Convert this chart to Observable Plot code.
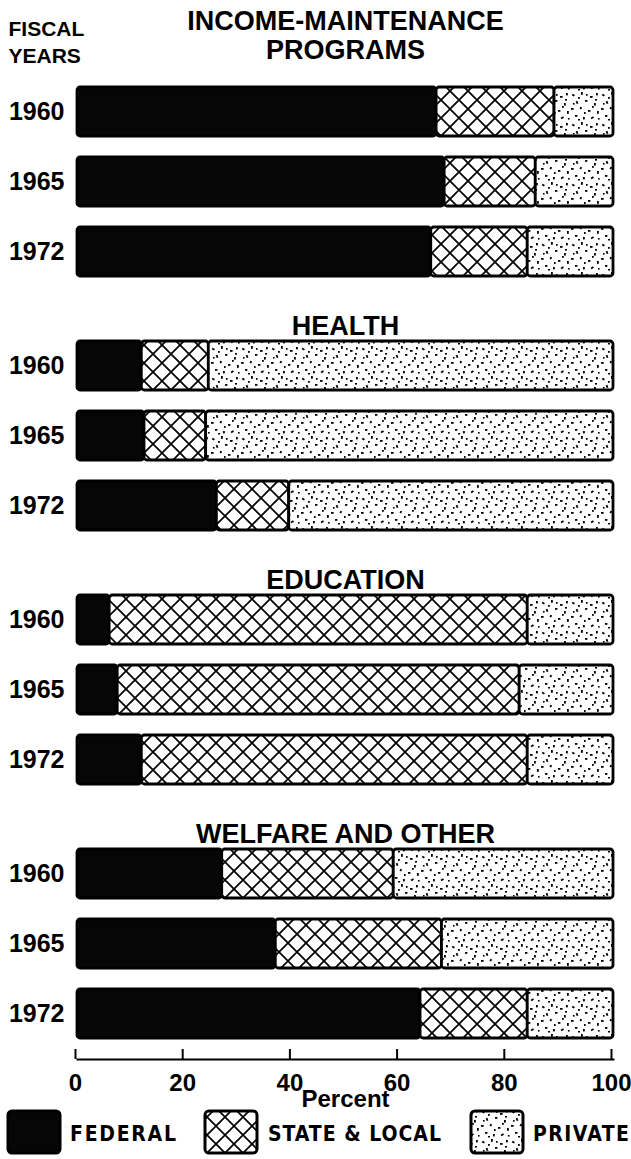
<!DOCTYPE html>
<html><head><meta charset="utf-8">
<script src="https://cdn.jsdelivr.net/npm/d3@7"></script>
<script src="https://cdn.jsdelivr.net/npm/@observablehq/plot@0.6"></script>
<style>
html,body{margin:0;padding:0;background:#fff;}
#chart{position:relative;width:631px;height:1159px;overflow:hidden;}
#legend{display:block;}
</style></head><body>
<svg width="0" height="0" style="position:absolute">
<defs>
<pattern id="cross" patternUnits="userSpaceOnUse" width="18" height="18">
<rect width="18" height="18" fill="#fff"/>
<path d="M-2,-2L20,20M20,-2L-2,20" stroke="#000" stroke-width="1.7"/>
</pattern>
<pattern id="dots" patternUnits="userSpaceOnUse" width="30" height="30">
<rect width="30" height="30" fill="#fff"/>
<g fill="#000">
<rect x="2" y="3" width="2.6" height="1.8" transform="rotate(30 3 4)"/>
<rect x="11" y="1" width="1.8" height="2.8"/>
<rect x="20" y="5" width="2.6" height="1.8"/>
<rect x="26" y="2" width="1.8" height="2.4"/>
<rect x="6" y="10" width="1.8" height="2.8" transform="rotate(-20 7 11)"/>
<rect x="15" y="9" width="2.4" height="1.8"/>
<rect x="24" y="12" width="1.8" height="2.6"/>
<rect x="1" y="17" width="2.6" height="1.8"/>
<rect x="10" y="16" width="1.8" height="2.4" transform="rotate(25 11 17)"/>
<rect x="18" y="19" width="2.4" height="1.8"/>
<rect x="27" y="20" width="1.8" height="2.8"/>
<rect x="5" y="24" width="2.4" height="1.8"/>
<rect x="13" y="26" width="1.8" height="2.4"/>
<rect x="21" y="26" width="2.8" height="1.8" transform="rotate(-30 22 27)"/>
<rect x="8" y="6" width="1.8" height="1.8"/>
<rect x="22" y="15" width="1.8" height="1.8"/>
<rect x="16" y="3" width="1.6" height="1.8"/>
<rect x="3" y="12" width="1.6" height="1.6"/>
<rect x="14" y="21" width="1.6" height="2"/>
<rect x="25" y="8" width="2" height="1.6"/>
<rect x="28" y="27" width="1.6" height="1.6"/>
<rect x="8" y="28" width="2" height="1.5"/>
</g>
</pattern>
</defs></svg>
<div id="chart"></div>
<script>
const programs = ["INCOME-MAINTENANCE\nPROGRAMS", "HEALTH", "EDUCATION", "WELFARE AND OTHER"];
const years = ["1960", "1965", "1972"];
const sources = ["FEDERAL", "STATE & LOCAL", "PRIVATE"];
// percent shares, per program, per year
const federal      = [[67, 68.5, 66], [12, 12.5, 26], [6, 7.5, 12], [27, 37, 64]];
const stateLocal   = [[22, 17, 18], [12.5, 11.5, 13.5], [78, 75, 72], [32, 31, 20]];
const privateShare = [[11, 14.5, 16], [75.5, 76, 60.5], [16, 17.5, 16], [41, 32, 16]];
const xTicks = [0, 20, 40, 60, 80, 100];

const series = [federal, stateLocal, privateShare];
const rows = [];
programs.forEach((p, i) => years.forEach((y, j) => series.forEach((arr, k) =>
  rows.push({program: p, year: y, source: sources[k], value: arr[i][j]}))));

const font = "'Liberation Sans', Arial, Helvetica, sans-serif";

const chart = Plot.plot({
  width: 631,
  height: 1108,
  marginLeft: 77,
  marginRight: 18,
  marginTop: 65,
  marginBottom: 48,
  style: {fontFamily: font, background: "#fff", color: "#000", overflow: "visible"},
  x: {domain: [0, 100]},
  y: {domain: years, padding: 0.3},
  fy: {domain: programs, paddingInner: 0.09, paddingOuter: 0, axis: null},
  color: {domain: sources, range: ["#060606", "url(#cross)", "url(#dots)"]},
  marks: [
    Plot.barX(rows, Plot.stackX({x: "value", y: "year", fy: "program", fill: "source", stroke: "#000", strokeWidth: 2.8, rx: 3})),
    Plot.axisY({tickSize: 0, tickPadding: 13, fontSize: 25, fontWeight: "bold", label: null}),
    Plot.axisX({ticks: xTicks, tickSize: -10, tickPadding: 24, strokeWidth: 2, fontSize: 24, fontWeight: "bold", dx: -2,
      label: "Percent", labelAnchor: "center", labelArrow: "none", labelOffset: 47}),
    Plot.frame({anchor: "bottom", facetAnchor: "bottom", strokeWidth: 2}),
    Plot.text(programs.slice(0, 1), {fy: d => d, text: d => d, frameAnchor: "top", lineAnchor: "bottom",
      dy: -8, fontSize: 27, fontWeight: "bold", lineHeight: 1.05}),
    Plot.text(programs.slice(1), {fy: d => d, text: d => d, frameAnchor: "top", lineAnchor: "bottom",
      dy: 14, fontSize: 27, fontWeight: "bold"}),
    Plot.text(programs.slice(0, 1), {fy: d => d, text: () => "FISCAL\nYEARS", frameAnchor: "top-left",
      textAnchor: "start", lineAnchor: "bottom", dx: -69, dy: -3.5, fontSize: 21, fontWeight: "bold", lineHeight: 1.3})
  ]
});
document.getElementById("chart").appendChild(chart);

// legend
const legendItems = [
  {label: sources[0], fill: "#060606", bx: 8, tx: 70, tw: 106},
  {label: sources[1], fill: "url(#cross)", bx: 205, tx: 268, tw: 173},
  {label: sources[2], fill: "url(#dots)", bx: 471, tx: 533, tw: 96}
];
const lg = d3.create("svg").attr("id", "legend").attr("width", 631).attr("height", 51);
const g = lg.selectAll("g").data(legendItems).join("g");
g.append("rect").attr("x", d => d.bx).attr("y", 3).attr("width", 52).attr("height", 42).attr("rx", 4)
  .attr("fill", d => d.fill).attr("stroke", "#000").attr("stroke-width", 3);
g.append("text").attr("x", d => d.tx).attr("y", 33).attr("font-family", "'DejaVu Sans Condensed', 'DejaVu Sans', sans-serif")
  .attr("font-weight", "bold").attr("font-size", 21).attr("textLength", d => d.tw).attr("lengthAdjust", "spacing")
  .text(d => d.label);
document.getElementById("chart").appendChild(lg.node());
</script>
</body></html>
